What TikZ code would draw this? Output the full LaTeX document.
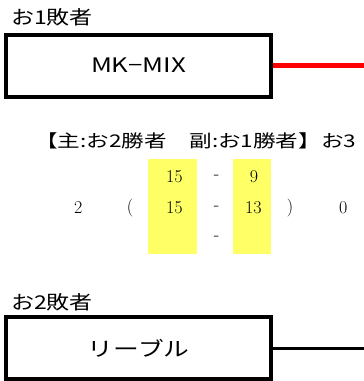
\documentclass[tikz,border=0pt]{standalone}
\usepackage{fontspec}
\newfontfamily\jpwide[FakeStretch=1.29]{Noto Sans CJK JP}
\newfontfamily\jpcap[FakeStretch=1.21]{Noto Sans CJK JP}
\definecolor{hiyellow}{HTML}{FFFF66}
\definecolor{linered}{HTML}{FF0000}
\begin{document}
\begin{tikzpicture}[x=1pt,y=-1pt,
  teambox/.style={draw=black,line width=4pt,minimum width=265.3pt,minimum height=62pt,inner sep=0pt,font=\jpwide\fontsize{20}{24}\selectfont},
  caption/.style={anchor=west,inner sep=0pt,font=\jpcap\fontsize{19}{22}\selectfont},
  score/.style={inner sep=0pt,font=\fontsize{18}{20}\selectfont},
  hilite/.style={fill=hiyellow,draw=none,inner sep=0pt}]
\useasboundingbox (0,0) rectangle (364,381);
% yellow highlight columns
\node[hilite,minimum width=49pt,minimum height=95pt] (y1) at (172.7,206.7) {};
\node[hilite,minimum width=38pt,minimum height=95pt] (y2) at (252.2,206.7) {};
% boxes
\node[teambox] (t1) at (138.65,65.5) {MK−MIX};
\node[teambox] (t2) at (138.75,348.25) {リーブル};
\coordinate (e1) at (364,65);
\coordinate (e2) at (364,348.5);
\draw[linered,line width=5pt] (t1.east |- e1) -- (e1);
\draw[black,line width=3pt] (t2.east |- e2) -- (e2);
% captions
\node[caption] (c1) at (11,17.5) {お1敗者};
\node[caption] (c2) at (11,302) {お2敗者};
\node[caption,font=\jpwide\fontsize{17.5}{20}\selectfont] (hd) at (35,140.5) {【主:お2勝者　副:お1勝者】お3};
% scores
\node[score] (s1a) at (174.3,177) {15};
\node[score] (s1d) at (216.7,177) {-};
\node[score] (s1b) at (254,177) {9};
\node[score] (w1) at (78.3,208) {2};
\node[score] (lp) at (130,208) {(};
\node[score] (s2a) at (174.3,208) {15};
\node[score] (s2d) at (216.7,208) {-};
\node[score] (s2b) at (253.3,208) {13};
\node[score] (rp) at (290,208) {)};
\node[score] (w2) at (343.3,208) {0};
\node[score] (s3d) at (216.7,238) {-};
\end{tikzpicture}
\end{document}
